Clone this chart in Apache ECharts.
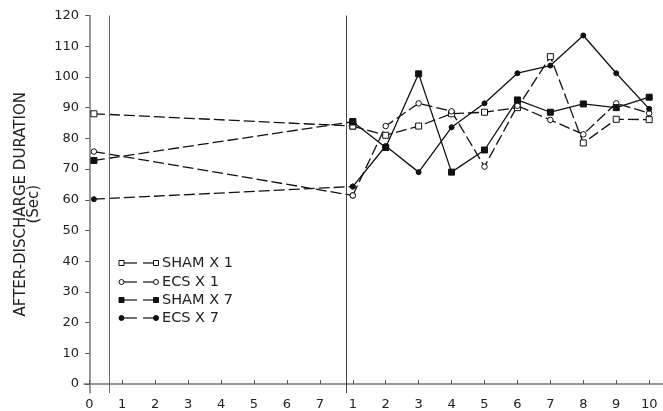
<!DOCTYPE html>
<html>
<head>
<meta charset="utf-8">
<script src="https://cdn.jsdelivr.net/npm/echarts@6/dist/echarts.min.js"></script>
<style>
  html, body { margin: 0; padding: 0; background: #fff; }
  #main { width: 663px; height: 411px; }
</style>
</head>
<body>
<div id="main"></div>
<script>
// tick positions on the x axis and the labels shown there (two sessions side by side)
var xTickPos = [0, 1, 2, 3, 4, 5, 6, 7, 8, 9, 10, 11, 12, 13, 14, 15, 16, 17];
var xTickLabels = ['0', '1', '2', '3', '4', '5', '6', '7', '1', '2', '3', '4', '5', '6', '7', '8', '9', '10'];
var yTicks = [0, 10, 20, 30, 40, 50, 60, 70, 80, 90, 100, 110, 120];

// baseline point sits just right of 0, post points sit on 1..10 of the second block
var baseX = 0.14;
var postX = [8, 9, 10, 11, 12, 13, 14, 15, 16, 17];

var names = ['SHAM X 1', 'ECS X 1', 'SHAM X 7', 'ECS X 7'];
var shamX1Base = 88,   shamX1 = [84, 81, 84, 88, 88.5, 90, 106.6, 78.5, 86.2, 86.1];
var ecsX1Base = 75.7,  ecsX1 = [61.4, 84, 91.4, 88.8, 70.8, 90.6, 86, 81.3, 91.4, 88.2];
var shamX7Base = 72.8, shamX7 = [85.4, 77, 101, 69, 76.2, 92.5, 88.5, 91.2, 90, 93.4];
var ecsX7Base = 60.2,  ecsX7 = [64.3, 77.5, 69, 83.6, 91.4, 101.2, 103.7, 113.5, 101.2, 89.6];

var groups = [
  { name: names[0], base: shamX1Base, vals: shamX1, symbol: 'rect', size: 6, fill: '#fff', line: 'dashed' },
  { name: names[1], base: ecsX1Base, vals: ecsX1, symbol: 'circle', size: 5.5, fill: '#fff', line: 'dashed' },
  { name: names[2], base: shamX7Base, vals: shamX7, symbol: 'rect', size: 6, fill: '#111', line: 'solid' },
  { name: names[3], base: ecsX7Base, vals: ecsX7, symbol: 'circle', size: 5, fill: '#111', line: 'solid' }
];

var dash = [11, 4];
var series = [];
groups.forEach(function (g) {
  var sym = { symbol: g.symbol, symbolSize: g.size, showAllSymbol: true,
    itemStyle: { color: g.fill, borderColor: '#111', borderWidth: 1 } };
  series.push(Object.assign({
    name: g.name, type: 'line', silent: true, z: 3,
    lineStyle: { color: '#111', width: 1.3, type: dash },
    data: [[baseX, g.base], [postX[0], g.vals[0]]]
  }, sym));
  series.push(Object.assign({
    name: g.name, type: 'line', silent: true, z: 3,
    lineStyle: { color: '#111', width: 1.3, type: g.line === 'dashed' ? dash : 'solid' },
    data: g.vals.map(function (v, i) { return [postX[i], v]; })
  }, sym));
});

// session dividers
series.push({
  type: 'line', data: [], silent: true,
  markLine: {
    symbol: 'none', silent: true, label: { show: false },
    lineStyle: { type: 'solid', width: 1 },
    data: [
      { xAxis: 0.607, lineStyle: { color: '#666' } },
      { xAxis: 7.79, lineStyle: { color: '#444' } }
    ]
  }
});

// legend drawn as symbol - - symbol pairs
var legendRows = [263, 282, 300, 318];
var legendEls = [];
groups.forEach(function (g, i) {
  var ry = legendRows[i];
  [121.5, 156].forEach(function (cx) {
    if (g.symbol === 'rect') {
      legendEls.push({ type: 'rect', z: 10, shape: { x: cx - 2.5, y: ry - 2.5, width: 5, height: 5 },
        style: { fill: g.fill, stroke: '#111', lineWidth: 1 } });
    } else {
      legendEls.push({ type: 'circle', z: 10, shape: { cx: cx, cy: ry, r: 2.5 },
        style: { fill: g.fill, stroke: '#111', lineWidth: 1 } });
    }
  });
  legendEls.push({ type: 'line', shape: { x1: 124, y1: ry, x2: 137, y2: ry }, style: { stroke: '#111', lineWidth: 1.2 } });
  legendEls.push({ type: 'line', shape: { x1: 143, y1: ry, x2: 153.5, y2: ry }, style: { stroke: '#111', lineWidth: 1.2 } });
  legendEls.push({ type: 'text', x: 162, y: ry, style: { text: g.name, fill: '#222',
    font: '14.5px "DejaVu Sans"', textVerticalAlign: 'middle' } });
});

var myChart = echarts.init(document.getElementById('main'));
myChart.setOption({
  animation: false,
  backgroundColor: '#fff',
  grid: { left: 84, right: 0, top: 15.5, bottom: 17, containLabel: false },
  xAxis: {
    type: 'value', min: -0.161, max: 17.42,
    axisLine: { show: true, lineStyle: { color: '#777', width: 1.5 } },
    axisTick: { show: true, inside: true, length: 4, customValues: xTickPos, lineStyle: { color: '#555' } },
    axisLabel: { customValues: xTickPos, margin: 5, color: '#222', fontSize: 13, fontFamily: 'DejaVu Sans',
      formatter: function (v) { return xTickLabels[Math.round(v)]; } },
    splitLine: { show: false }
  },
  yAxis: {
    type: 'value', min: -2.92, max: 120,
    name: 'AFTER-DISCHARGE DURATION\n(Sec)',
    nameLocation: 'middle', nameGap: 44,
    nameTextStyle: { color: '#222', fontSize: 15, fontFamily: 'DejaVu Sans', lineHeight: 12.5 },
    axisLine: { show: true, lineStyle: { color: '#777', width: 1.5 } },
    axisTick: { show: true, length: 4, customValues: yTicks, lineStyle: { color: '#555' } },
    axisLabel: { customValues: yTicks, margin: 5, color: '#222', fontSize: 13, fontFamily: 'DejaVu Sans' },
    splitLine: { show: false }
  },
  graphic: legendEls,
  series: series
});
</script>
</body>
</html>
